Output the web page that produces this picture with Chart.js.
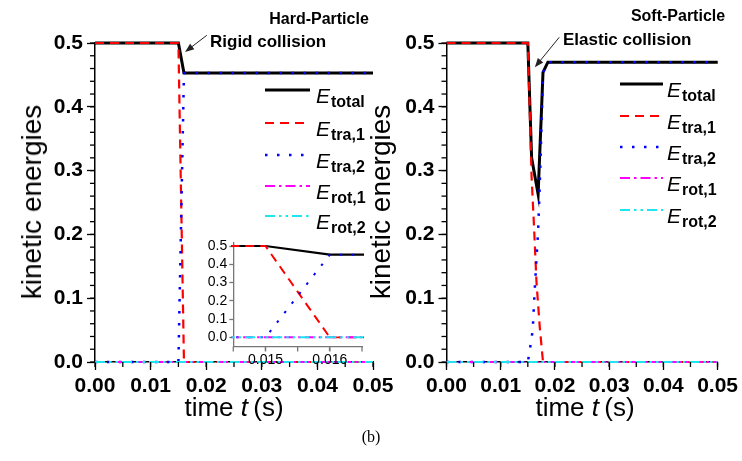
<!DOCTYPE html>
<html>
<head>
<meta charset="utf-8">
<script src="https://cdn.jsdelivr.net/npm/chart.js@4.4.1/dist/chart.umd.min.js"></script>
<style>
  body { margin: 0; background: #fff; }
  #wrap { position: relative; width: 742px; height: 461px; background: #fff; overflow: hidden; font-family: "Liberation Sans", Arial, sans-serif; }
  canvas { position: absolute; }
  .lbl { position: absolute; white-space: nowrap; color: #000; transform: translate(-50%, -50%); }
  .ytitle { font-size: 28px; transform: translate(-50%, -50%) rotate(-90deg); }
  .xtitle { font-size: 26px; }
  .panel { font-weight: bold; font-size: 16px; }
  .note { font-size: 17px; font-weight: 600; transform: translate(0, -50%); }
</style>
</head>
<body>
<div id="wrap">
  <canvas id="hard" width="742" height="461" style="left:0;top:0"></canvas>
  <canvas id="soft" width="742" height="461" style="left:0;top:0"></canvas>
  <canvas id="inset" width="190" height="140" style="left:180px;top:232px"></canvas>

  <div class="lbl ytitle" style="left:32px;top:202px">kinetic energies</div>
  <div class="lbl ytitle" style="left:381px;top:202px">kinetic energies</div>
  <div class="lbl xtitle" style="left:234px;top:407px">time <i>t</i>&thinsp;(s)</div>
  <div class="lbl xtitle" style="left:585px;top:407px">time <i>t</i>&thinsp;(s)</div>
  <div class="lbl panel" style="left:319px;top:19px">Hard-Particle</div>
  <div class="lbl panel" style="left:678px;top:16px">Soft-Particle</div>
  <div class="lbl note" style="left:210px;top:42px">Rigid collision</div>
  <div class="lbl note" style="left:563px;top:40px">Elastic collision</div>
  <div class="lbl" style="left:371px;top:437px;font-family:'Liberation Serif','Times New Roman',serif;font-size:16px">(b)</div>
</div>

<script>
// ---- data ----
const timeTicks = [0, 0.01, 0.02, 0.03, 0.04, 0.05];
const energyTicks = [0, 0.1, 0.2, 0.3, 0.4, 0.5];

// hard particle
const hardT = [0, 0.015, 0.016, 0.05];
const hardTotal = [0.5, 0.5, 0.453, 0.453];
const hardTra1 = [0.5, 0.5, 0, 0];
const hardTra2 = [0, 0, 0.453, 0.453];
const hardRotT = [0, 0.05];
const hardRot1 = [0, 0];
const hardRot2 = [0, 0];

// soft particle
const softTotalT = [0, 0.015, 0.0157, 0.0169, 0.0178, 0.0187, 0.05];
const softTotal = [0.5, 0.5, 0.32, 0.263, 0.454, 0.47, 0.47];
const softTra1T = [0, 0.015, 0.0157, 0.0161, 0.0166, 0.0172, 0.0178, 0.05];
const softTra1 = [0.5, 0.5, 0.29, 0.22, 0.125, 0.055, 0, 0];
const softTra2T = [0, 0.015, 0.0153, 0.0159, 0.0163, 0.0169, 0.0172, 0.0178, 0.0187, 0.05];
const softTra2 = [0, 0, 0.015, 0.05, 0.117, 0.206, 0.276, 0.454, 0.47, 0.47];
const softRotT = [0, 0.05];
const softRot1 = [0, 0];
const softRot2 = [0, 0];

// inset (zoom of the hard-particle collision)
const insetTimeLabels = [0.015, 0.016];

// ---- helpers ----
function pts(xs, ys) {
  return xs.map((x, i) => ({ x: x, y: ys[i] }));
}

const styles = {
  total: { borderColor: "#000000", borderWidth: 3, borderDash: [] },
  tra1: { borderColor: "#ff0000", borderWidth: 2.2, borderDash: [9, 6] },
  tra2: { borderColor: "#0000ff", borderWidth: 2.5, borderDash: [2.5, 9.5] },
  rot1: { borderColor: "#ff00ff", borderWidth: 2, borderDash: [10, 4, 2.5, 4] },
  rot2: { borderColor: "#1de6ef", borderWidth: 2, borderDash: [10, 4, 2.5, 4, 2.5, 4] }
};

function ds(key, data, order, widthScale, clip) {
  const s = styles[key];
  return {
    key: key,
    data: data,
    borderColor: s.borderColor,
    borderWidth: s.borderWidth * (widthScale || 1),
    borderDash: s.borderDash,
    pointRadius: 0,
    tension: 0,
    fill: false,
    clip: clip,
    order: order
  };
}

const subText = { total: "total", tra1: "tra,1", tra2: "tra,2", rot1: "rot,1", rot2: "rot,2" };

// legend drawn on canvas so the subscripts look right
const legendPlugin = {
  id: "subLegend",
  afterDraw(chart, args, opts) {
    if (!opts || !opts.rows) return;
    const ctx = chart.ctx;
    ctx.save();
    chart.data.datasets.forEach((d, i) => {
      const y = opts.rows[i];
      ctx.beginPath();
      ctx.strokeStyle = d.borderColor;
      ctx.lineWidth = d.borderWidth;
      ctx.setLineDash(d.borderDash);
      ctx.moveTo(opts.x0, y);
      ctx.lineTo(opts.x1, y);
      ctx.stroke();
      ctx.setLineDash([]);
      ctx.fillStyle = "#000";
      ctx.textBaseline = "alphabetic";
      ctx.textAlign = "left";
      ctx.font = "italic 21px 'Liberation Sans', Arial, sans-serif";
      ctx.fillText("E", opts.tx, y + 13);
      const w = ctx.measureText("E").width;
      ctx.font = "bold 16px 'Liberation Sans', Arial, sans-serif";
      ctx.fillText(subText[d.key], opts.tx + w + 1, y + 17);
    });
    ctx.restore();
  }
};

// minor ticks + annotation arrow, placed through the scales
const extrasPlugin = {
  id: "extras",
  afterDraw(chart, args, opts) {
    if (!opts) return;
    const ctx = chart.ctx;
    const xs = chart.scales.x, ys = chart.scales.y;
    ctx.save();
    ctx.strokeStyle = opts.tickColor || "#000";
    ctx.lineWidth = 1.3;
    if (opts.yMinor) {
      const n = Math.round((ys.max - ys.min) / opts.yMinor);
      for (let i = 0; i <= n; i++) {
        const py = ys.getPixelForValue(ys.min + i * opts.yMinor);
        ctx.beginPath();
        ctx.moveTo(xs.left - 5, py);
        ctx.lineTo(xs.left, py);
        ctx.stroke();
      }
    }
    if (opts.xMinor) {
      const n = Math.round((xs.max - xs.min) / opts.xMinor);
      for (let i = 0; i <= n; i++) {
        const px = xs.getPixelForValue(xs.min + i * opts.xMinor);
        ctx.beginPath();
        ctx.moveTo(px, ys.bottom);
        ctx.lineTo(px, ys.bottom + 5);
        ctx.stroke();
      }
    }
    if (opts.arrow) {
      const a = opts.arrow;
      const x1 = xs.getPixelForValue(a.from[0]), y1 = ys.getPixelForValue(a.from[1]);
      const x2 = xs.getPixelForValue(a.to[0]), y2 = ys.getPixelForValue(a.to[1]);
      const ang = Math.atan2(y2 - y1, x2 - x1);
      ctx.strokeStyle = "#222";
      ctx.fillStyle = "#222";
      ctx.lineWidth = 1;
      ctx.beginPath();
      ctx.moveTo(x1, y1);
      ctx.lineTo(x2 - 6 * Math.cos(ang), y2 - 6 * Math.sin(ang));
      ctx.stroke();
      ctx.beginPath();
      ctx.moveTo(x2, y2);
      ctx.lineTo(x2 - 9 * Math.cos(ang) + 3.5 * Math.sin(ang), y2 - 9 * Math.sin(ang) - 3.5 * Math.cos(ang));
      ctx.lineTo(x2 - 9 * Math.cos(ang) - 3.5 * Math.sin(ang), y2 - 9 * Math.sin(ang) + 3.5 * Math.cos(ang));
      ctx.closePath();
      ctx.fill();
    }
    ctx.restore();
  }
};

const tickFont = { family: "'Liberation Sans Narrow', 'Arial Narrow', 'Liberation Sans', Arial, sans-serif", size: 21, weight: "bold" };

function mainScales() {
  return {
    x: {
      type: "linear",
      min: 0,
      max: 0.05,
      afterBuildTicks: (s) => { s.ticks = timeTicks.map((v) => ({ value: v })); },
      afterFit: (s) => { s.height = 40; },
      ticks: { color: "#000", font: tickFont, padding: 4, callback: (v) => Number(v).toFixed(2), maxRotation: 0, autoSkip: false },
      grid: { drawOnChartArea: false, drawTicks: true, tickLength: 8, tickColor: "#000", tickWidth: 1.3 },
      border: { color: "#000", width: 1.5 }
    },
    y: {
      type: "linear",
      min: 0,
      max: 0.5,
      afterBuildTicks: (s) => { s.ticks = energyTicks.map((v) => ({ value: v })); },
      afterFit: (s) => { s.width = 50; },
      ticks: { color: "#000", font: tickFont, padding: 4, callback: (v) => Number(v).toFixed(1) },
      grid: { drawOnChartArea: false, drawTicks: true, tickLength: 8, tickColor: "#000", tickWidth: 1.3 },
      border: { color: "#000", width: 1.5 }
    }
  };
}

Chart.register(legendPlugin, extrasPlugin);

new Chart(document.getElementById("hard").getContext("2d"), {
  type: "line",
  data: {
    datasets: [
      ds("total", pts(hardT, hardTotal), 5, 1, false),
      ds("tra1", pts(hardT, hardTra1), 4, 1, false),
      ds("tra2", pts(hardT, hardTra2), 3, 1, false),
      ds("rot1", pts(hardRotT, hardRot1), 2, 1, false),
      ds("rot2", pts(hardRotT, hardRot2), 1, 1, false)
    ]
  },
  options: {
    responsive: false,
    animation: false,
    layout: { padding: { left: 45, right: 369, top: 43, bottom: 59 } },
    plugins: {
      legend: { display: false },
      tooltip: { enabled: false },
      subLegend: { x0: 265, x1: 310, tx: 316, rows: [90, 123, 155, 186, 216] },
      extras: { yMinor: 0.02, xMinor: 0.005, arrow: { from: [0.0201, 0.512], to: [0.0162, 0.486] } }
    },
    scales: mainScales()
  }
});

new Chart(document.getElementById("soft").getContext("2d"), {
  type: "line",
  data: {
    datasets: [
      ds("total", pts(softTotalT, softTotal), 5, 1, false),
      ds("tra1", pts(softTra1T, softTra1), 4, 1, false),
      ds("tra2", pts(softTra2T, softTra2), 3, 1, false),
      ds("rot1", pts(softRotT, softRot1), 2, 1, false),
      ds("rot2", pts(softRotT, softRot2), 1, 1, false)
    ]
  },
  options: {
    responsive: false,
    animation: false,
    layout: { padding: { left: 396.5, right: 19, top: 43, bottom: 59 } },
    plugins: {
      legend: { display: false },
      tooltip: { enabled: false },
      subLegend: { x0: 620, x1: 663, tx: 667, rows: [84, 116, 147, 178, 210] },
      extras: { yMinor: 0.02, xMinor: 0.005, arrow: { from: [0.0208, 0.509], to: [0.0163, 0.462] } }
    },
    scales: mainScales()
  }
});

const insetFont = { family: "'Liberation Sans', Arial, sans-serif", size: 14 };

new Chart(document.getElementById("inset").getContext("2d"), {
  type: "line",
  data: {
    datasets: [
      ds("total", pts(hardT, hardTotal), 5, 0.7, 2),
      ds("tra1", pts(hardT, hardTra1), 4, 0.9, 2),
      ds("tra2", pts(hardT, hardTra2), 3, 0.8, 2),
      ds("rot1", pts(hardRotT, hardRot1), 2, 1, 2),
      ds("rot2", pts(hardRotT, hardRot2), 1, 1, 2)
    ]
  },
  options: {
    responsive: false,
    animation: false,
    layout: { padding: { left: 23.3, right: 8, top: 9.3, bottom: 3.5 } },
    plugins: {
      legend: { display: false },
      tooltip: { enabled: false },
      extras: { tickColor: "#777", xMinor: 0.0005 }
    },
    scales: {
      x: {
        type: "linear",
        min: 0.0145,
        max: 0.0165,
        afterBuildTicks: (s) => { s.ticks = insetTimeLabels.map((v) => ({ value: v })); },
        afterFit: (s) => { s.height = 22; },
        ticks: { color: "#000", font: insetFont, padding: 1, callback: (v) => Number(v).toFixed(3), maxRotation: 0, autoSkip: false },
        grid: { drawOnChartArea: false, drawTicks: true, tickLength: 4.5, tickColor: "#777", tickWidth: 1.3 },
        border: { color: "#777", width: 1.3 }
      },
      y: {
        type: "linear",
        min: -0.05,
        max: 0.52,
        afterBuildTicks: (s) => { s.ticks = energyTicks.map((v) => ({ value: v })); },
        afterFit: (s) => { s.width = 30; },
        ticks: { color: "#000", font: insetFont, padding: 2, callback: (v) => Number(v).toFixed(1) },
        grid: { drawOnChartArea: false, drawTicks: true, tickLength: 4, tickColor: "#777", tickWidth: 1.3 },
        border: { color: "#777", width: 1.3 }
      }
    }
  }
});
</script>
</body>
</html>
